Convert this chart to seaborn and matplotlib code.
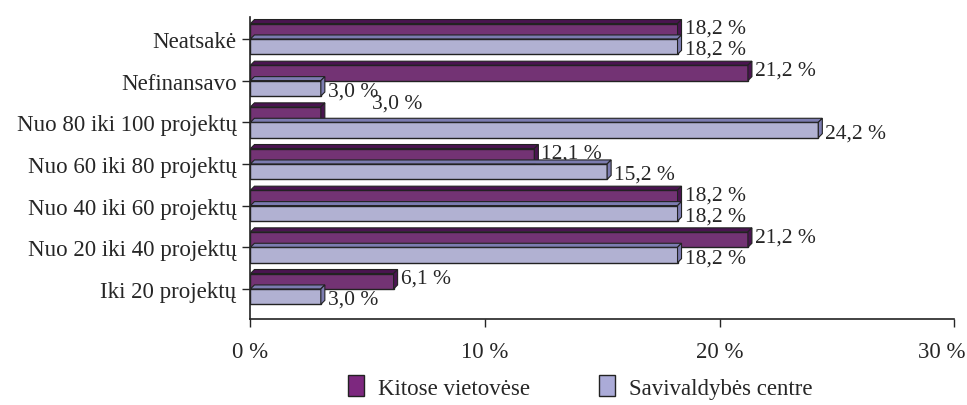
import pandas as pd
import numpy as np
import matplotlib
matplotlib.use('Agg')
import matplotlib.pyplot as plt
import seaborn as sns
from matplotlib.patches import Polygon, Patch
from matplotlib.transforms import IdentityTransform, ScaledTranslation

# Data
categories = ['Neatsakė', 'Nefinansavo', 'Nuo 80 iki 100 projektų',
              'Nuo 60 iki 80 projektų', 'Nuo 40 iki 60 projektų',
              'Nuo 20 iki 40 projektų', 'Iki 20 projektų']
kitose = [18.2, 21.2, 3.0, 12.1, 18.2, 21.2, 6.1]
centre = [18.2, 3.0, 24.2, 15.2, 18.2, 18.2, 3.0]
series_names = ['Kitose vietovėse', 'Savivaldybės centre']

df = pd.DataFrame({
    'category': categories * 2,
    'value': kitose + centre,
    'series': [series_names[0]] * len(categories) + [series_names[1]] * len(categories),
})

sns.set_style('white')
plt.rcParams['font.family'] = ['Liberation Serif', 'DejaVu Serif']

colors = {'Kitose vietovėse': '#7d287f', 'Savivaldybės centre': '#ababd8'}
dark = {'Kitose vietovėse': '#4a1450', 'Savivaldybės centre': '#7c7cb0'}
fs = 16.5
fs_val = 15.5

fig = plt.figure(figsize=(9.67, 4.06), dpi=100)
ax = fig.add_axes([0.259, 0.212, 0.728, 0.744])

sns.barplot(data=df, y='category', x='value', hue='series', order=categories,
            hue_order=series_names, palette=colors, width=0.74, orient='h',
            edgecolor='#222222', linewidth=1.0, ax=ax, legend=False)

ax.set_xlim(0, 30)
ax.set_ylim(6.72, -0.53)
ax.set_xticks([0, 10, 20, 30])
ax.set_xticklabels(['0 %', '10 %', '20 %', '30 %'], fontsize=fs)
ax.tick_params(axis='y', labelsize=fs, length=6, width=1, direction='out', left=True, pad=4)
ax.tick_params(axis='x', length=6, width=1, direction='out', bottom=True, pad=10)
last = ax.get_xticklabels()[-1]
last.set_transform(last.get_transform() + ScaledTranslation(-0.13, 0, fig.dpi_scale_trans))
ax.set_xlabel('')
ax.set_ylabel('')
sns.despine(ax=ax)
for s in ['left', 'bottom']:
    ax.spines[s].set_color('#222222')
    ax.spines[s].set_linewidth(1.2)

# pseudo 3D top and side faces
fig.canvas.draw()
d = 4
for i, name in enumerate(series_names):
    for p in ax.patches[i * len(categories):(i + 1) * len(categories)]:
        x0, y0 = p.get_x(), p.get_y()
        x1, y1 = x0 + p.get_width(), y0 + p.get_height()
        (dx0, dtop), (dx1, dbot) = ax.transData.transform([(x0, y0), (x1, y1)])
        top = Polygon([(dx0, dtop), (dx1, dtop), (dx1 + d, dtop + d), (dx0 + d, dtop + d)],
                      closed=True, facecolor=dark[name], edgecolor='#222222', lw=0.8,
                      transform=IdentityTransform(), clip_on=False)
        side = Polygon([(dx1, dtop), (dx1 + d, dtop + d), (dx1 + d, dbot + d), (dx1, dbot)],
                       closed=True, facecolor=dark[name], edgecolor='#222222', lw=0.8,
                       transform=IdentityTransform(), clip_on=False)
        fig.add_artist(top)
        fig.add_artist(side)

# value labels
def fmt(v):
    return f'{v:.1f}'.replace('.', ',') + ' %'

for i, (k, c) in enumerate(zip(kitose, centre)):
    ky = i - 0.25
    kx = k + 0.3
    if i == 2:
        kx, ky = k + 2.2, i - 0.47
    ax.text(kx, ky, fmt(k), va='center', ha='left', fontsize=fs_val)
    ax.text(c + 0.3, i + 0.25, fmt(c), va='center', ha='left', fontsize=fs_val)

# legend
handles = [Patch(facecolor=colors[n], edgecolor='#222222', label=n) for n in series_names]
fig.legend(handles=handles, loc='lower center', ncol=2, frameon=False, fontsize=fs,
           bbox_to_anchor=(0.6, -0.035), handlelength=0.7, handleheight=1.0,
           columnspacing=3.0, handletextpad=0.6)

fig.savefig('out.png', dpi=100)
plt.close()
